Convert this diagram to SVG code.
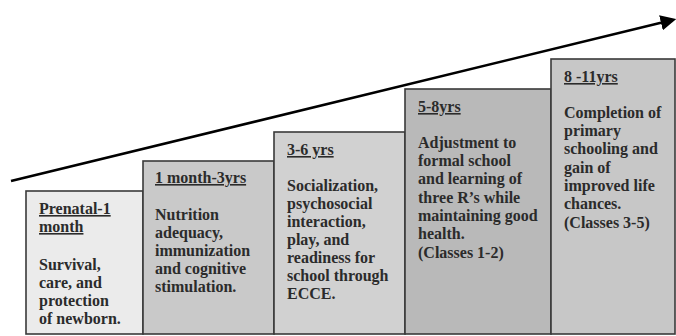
<svg xmlns="http://www.w3.org/2000/svg" width="676" height="336" viewBox="0 0 676 336">
<defs>
<style>
.box{stroke:#3a3a3a;stroke-width:1.6}
.t{font-family:"Liberation Serif","Times New Roman",serif;font-weight:bold;font-size:16px;fill:#2b2b2b}
.h{text-decoration:underline}
</style>
<marker id="ah" viewBox="0 0 10 10" refX="2" refY="5" markerWidth="6" markerHeight="6" orient="auto" markerUnits="strokeWidth">
<path d="M0,0 L10,5 L0,10 Z" fill="#000"/>
</marker>
</defs>
<rect width="676" height="336" fill="#fff"/>
<g id="connectors">
<line x1="11" y1="181" x2="664" y2="22" stroke="#000" stroke-width="2.6" marker-end="url(#ah)"/>
</g>
<g id="node1">
<rect class="box" x="26" y="191" width="117" height="143" fill="#ebebeb"/>
<text class="t" x="39"><tspan class="h" x="39" y="214">Prenatal-1</tspan><tspan class="h" x="39" y="232">month</tspan><tspan x="39" y="270">Survival,</tspan><tspan x="39" y="288">care, and</tspan><tspan x="39" y="306">protection</tspan><tspan x="39" y="324">of newborn.</tspan></text>
</g>
<g id="node2">
<rect class="box" x="143" y="161" width="131" height="173" fill="#c9c9c9"/>
<text class="t"><tspan class="h" x="155" y="183">1 month-3yrs</tspan><tspan x="155" y="220">Nutrition</tspan><tspan x="155" y="238">adequacy,</tspan><tspan x="155" y="256">immunization</tspan><tspan x="155" y="274">and cognitive</tspan><tspan x="155" y="292">stimulation.</tspan></text>
</g>
<g id="node3">
<rect class="box" x="274" y="132" width="131" height="202" fill="#d1d1d1"/>
<text class="t"><tspan class="h" x="287" y="155">3-6 yrs</tspan><tspan x="287" y="191">Socialization,</tspan><tspan x="287" y="209">psychosocial</tspan><tspan x="287" y="227">interaction,</tspan><tspan x="287" y="245">play, and</tspan><tspan x="287" y="263">readiness for</tspan><tspan x="287" y="281">school through</tspan><tspan x="287" y="299">ECCE.</tspan></text>
</g>
<g id="node4">
<rect class="box" x="405" y="89" width="146" height="245" fill="#b9b9b9"/>
<text class="t"><tspan class="h" x="418" y="112">5-8yrs</tspan><tspan x="418" y="148">Adjustment to</tspan><tspan x="418" y="166">formal school</tspan><tspan x="418" y="184">and learning of</tspan><tspan x="418" y="203">three R’s while</tspan><tspan x="418" y="221">maintaining good</tspan><tspan x="418" y="239">health.</tspan><tspan x="418" y="258">(Classes 1-2)</tspan></text>
</g>
<g id="node5">
<rect class="box" x="551" y="59" width="124" height="275" fill="#c7c7c7"/>
<text class="t"><tspan class="h" x="564" y="82">8 -11yrs</tspan><tspan x="564" y="118">Completion of</tspan><tspan x="564" y="136">primary</tspan><tspan x="564" y="154">schooling and</tspan><tspan x="564" y="173">gain of</tspan><tspan x="564" y="191">improved life</tspan><tspan x="564" y="209">chances.</tspan><tspan x="564" y="228">(Classes 3-5)</tspan></text>
</g>
</svg>
